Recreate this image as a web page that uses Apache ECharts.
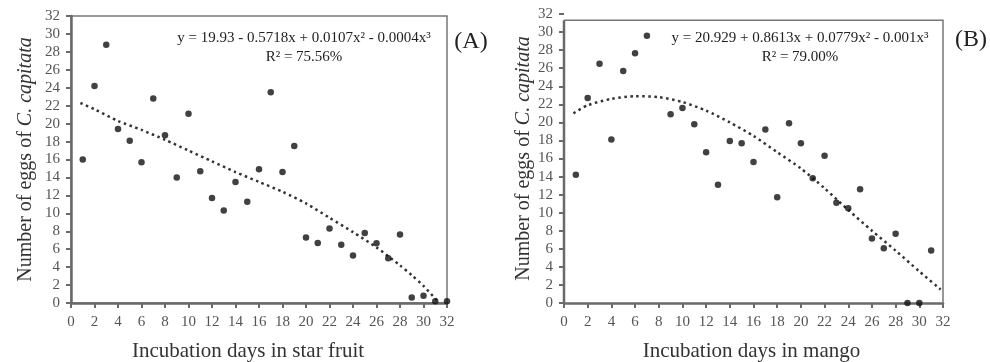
<!DOCTYPE html>
<html><head><meta charset="utf-8">
<script src="https://cdn.jsdelivr.net/npm/echarts@6/dist/echarts.min.js"></script>
<style>html,body{margin:0;padding:0;background:#fff}#c{width:990px;height:362px}</style>
</head><body><div id="c"></div>
<script>
// ---- data ----
const axisMin = 0, axisMax = 32, axisStep = 2;
const daysA = [1,2,3,4,5,6,7,8,9,10,11,12,13,14,15,16,17,18,19,20,21,22,23,24,25,26,27,28,29,30,31,32];
const eggsA = [16.0,24.2,28.8,19.4,18.1,15.7,22.8,18.7,14.0,21.1,14.7,11.7,10.3,13.5,11.3,14.9,23.5,14.6,17.5,7.3,6.7,8.3,6.5,5.3,7.8,6.65,5.0,7.65,0.6,0.8,0.2,0.2];
const trendAx = [0.8,2,4,6,8,10,12,14,16,18,20,22,24,26,28,29,30,31,31.3];
const trendAy = [22.3,21.6,20.3,19.3,18.2,17.0,15.8,14.6,13.5,12.4,11.1,9.5,7.9,6.2,4.2,3.1,1.9,0.5,0];

const daysB = [1,2,3,4,5,6,7,9,10,11,12,13,14,15,16,17,18,19,20,21,22,23,24,25,26,27,28,29,30,31];
const eggsB = [14.2,22.7,26.5,18.1,25.7,27.65,29.6,20.9,21.6,19.8,16.7,13.1,17.95,17.7,15.6,19.2,11.7,19.9,17.7,13.8,16.3,11.1,10.5,12.6,7.15,6.05,7.67,0,0,5.8];
const trendBx = [0.8,2,4,6,8,10,12,14,16,18,20,22,24,26,28,30,31.8];
const trendBy = [21.0,21.9,22.6,22.9,22.8,22.25,21.3,20.0,18.5,16.7,14.9,12.7,10.3,8.0,5.8,3.5,1.5];

const eqA = 'y = 19.93 - 0.5718x + 0.0107x² - 0.0004x³';
const r2A = 'R² = 75.56%';
const eqB = 'y = 20.929 + 0.8613x + 0.0779x² - 0.001x³';
const r2B = 'R² = 79.00%';
const xNameA = 'Incubation days in star fruit';
const xNameB = 'Incubation days in mango';
const yNameMain = 'Number of eggs of ';
const yNameItal = 'C. capitata';
const boxTopB = 31.3;

// ---- style ----
const FONT = '"Liberation Serif", "Times New Roman", serif';
const AXC = '#6a6a6a';
const chart = echarts.init(document.getElementById('c'), null, {renderer: 'canvas'});

function pairs(xs, ys) { return xs.map((x, i) => [x, ys[i]]); }

function xAxis(gi, name, padR) {
  return {
    type: 'value', gridIndex: gi, min: axisMin, max: axisMax, interval: axisStep,
    name: name, nameLocation: 'middle', nameGap: 38,
    nameTextStyle: {fontFamily: FONT, fontSize: 21, color: '#333', padding: [0, padR, 0, 0]},
    axisLine: {show: true, lineStyle: {color: AXC, width: 2.5}},
    axisTick: {show: true, inside: false, length: 5, lineStyle: {color: AXC, width: 2}},
    axisLabel: {fontFamily: FONT, fontSize: 15, color: '#555', margin: 12, interval: 0},
    splitLine: {show: false}
  };
}
function yAxis(gi, gap, showLine) {
  return {
    type: 'value', gridIndex: gi, min: axisMin, max: axisMax, interval: axisStep,
    name: '{a|' + yNameMain + '}{b|' + yNameItal + '}', nameLocation: 'middle', nameGap: gap,
    nameTextStyle: {fontFamily: FONT, fontSize: 20, color: '#333',
      rich: {a: {fontFamily: FONT, fontSize: 20, color: '#333'},
             b: {fontFamily: FONT, fontSize: 20, color: '#333', fontStyle: 'italic'}}},
    axisLine: {show: showLine, lineStyle: {color: AXC, width: 2.5}},
    axisTick: {show: true, inside: false, length: 5, lineStyle: {color: AXC, width: 2}},
    axisLabel: {fontFamily: FONT, fontSize: 15, color: '#555', margin: 11, interval: 0},
    splitLine: {show: false}
  };
}
function label(id, x, y, text, size) {
  return {type: 'text', id: id, x: x, y: y, z: 10,
    style: {text: text, fontFamily: FONT, fontSize: size, fill: '#222', align: 'center', verticalAlign: 'middle'}};
}

const option = {
  animation: false,
  backgroundColor: '#fff',
  grid: [
    {left: 71, top: 16, width: 376, height: 287, outerBoundsMode: 'none', containLabel: false,
     show: true, borderColor: '#777', borderWidth: 1.5, backgroundColor: 'transparent'},
    {left: 564, top: 14, width: 379, height: 289, outerBoundsMode: 'none', containLabel: false, show: false}
  ],
  xAxis: [xAxis(0, xNameA, 22), xAxis(1, xNameB, 4)],
  yAxis: [yAxis(0, 35, true), yAxis(1, 30, false)],
  series: [
    {type: 'line', xAxisIndex: 0, yAxisIndex: 0, data: pairs(trendAx, trendAy), smooth: 0.25, showSymbol: false,
     lineStyle: {color: '#333', width: 2.5, type: [2.5, 3.5]}, z: 2},
    {type: 'scatter', xAxisIndex: 0, yAxisIndex: 0, data: pairs(daysA, eggsA), symbol: 'circle', symbolSize: 6.5,
     itemStyle: {color: '#111'}, clip: false, z: 3},
    {type: 'line', xAxisIndex: 1, yAxisIndex: 1, data: pairs(trendBx, trendBy), smooth: 0.25, showSymbol: false,
     lineStyle: {color: '#333', width: 2.5, type: [2.5, 3.5]}, z: 2},
    {type: 'scatter', xAxisIndex: 1, yAxisIndex: 1, data: pairs(daysB, eggsB), symbol: 'circle', symbolSize: 6.5,
     itemStyle: {color: '#111'}, clip: false, z: 3}
  ]
};
chart.setOption(option);

// frame for panel B (box top sits slightly below the 32 label), plus annotations
const tl = chart.convertToPixel({xAxisIndex: 1, yAxisIndex: 1}, [axisMin, boxTopB]);
const br = chart.convertToPixel({xAxisIndex: 1, yAxisIndex: 1}, [axisMax, axisMin]);
chart.setOption({
  graphic: [
    {type: 'polyline', id: 'frameB', z: 1, shape: {points: [[tl[0], tl[1]], [br[0], tl[1]], [br[0], br[1]]]},
     style: {stroke: '#777', lineWidth: 1.5, fill: null}},
    {type: 'line', id: 'leftB', z: 1, shape: {x1: tl[0], y1: tl[1], x2: tl[0], y2: br[1]},
     style: {stroke: AXC, lineWidth: 2.5}},
    label('eqA', 304, 38, eqA, 15),
    label('r2A', 304, 57, r2A, 15),
    label('eqB', 800, 38, eqB, 15),
    label('r2B', 800, 57, r2B, 15),
    label('pA', 471, 42, '(A)', 24),
    label('pB', 971, 40, '(B)', 24)
  ]
});
</script>
</body></html>
